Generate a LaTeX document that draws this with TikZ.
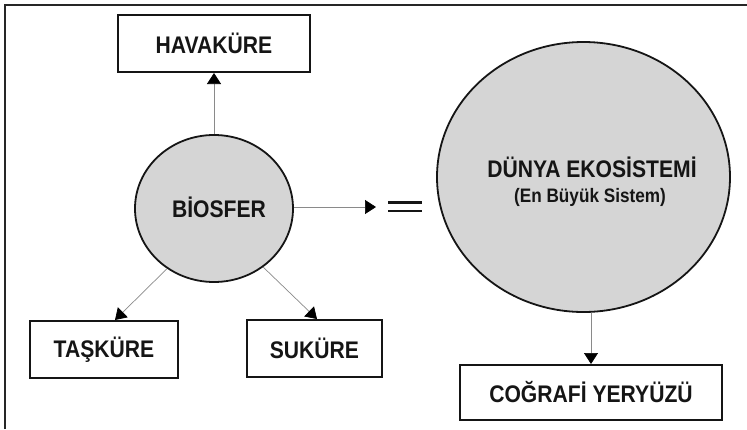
\documentclass[tikz,border=0pt]{standalone}
\usepackage{fontspec}
\setmainfont{Liberation Sans}
\newfontfamily\condfont[FakeStretch=0.88]{Liberation Sans}
\usetikzlibrary{arrows.meta,shapes.geometric}
\definecolor{fillgray}{HTML}{D5D5D5}
\definecolor{edgedark}{HTML}{151515}
\definecolor{linegray}{HTML}{8A8A8A}
\tikzset{
  bigfont/.style={font=\condfont\bfseries\fontsize{24}{27}\selectfont},
  boxnode/.style={draw=edgedark, line width=2pt, fill=white, inner sep=0pt,
    bigfont, text=edgedark},
  ellnode/.style={ellipse, draw=edgedark, line width=1.8pt, fill=fillgray, inner sep=0pt},
  conn/.style={draw=linegray, line width=0.7pt, -{Triangle[length=11pt,width=14pt,fill=black,color=black]}},
  labeltext/.style={inner sep=0pt, text=edgedark},
  framestyle/.style={draw=black!85, line width=1.8pt}
}
\begin{document}
\begin{tikzpicture}[x=1pt,y=-1pt]
\useasboundingbox (0,0) rectangle (747,429);
% frame (top and left edges)
\draw[framestyle] (5,429) -- (5,5) -- (747,5);
% nodes
\node[boxnode, minimum width=192pt, minimum height=57pt] (hava) at (214,43.5) {HAVAKÜRE};
\node[ellnode, minimum width=158pt, minimum height=147pt] (bio) at (214,208.5) {};
\node[labeltext, bigfont] (biotext) at (219,207) {BİOSFER};
\node[boxnode, minimum width=148pt, minimum height=57pt] (tas) at (104,349.5) {TAŞKÜRE};
\node[boxnode, minimum width=135pt, minimum height=57pt] (su) at (314.5,348.5) {SUKÜRE};
\node[ellnode, minimum width=293pt, minimum height=270pt] (dunya) at (583.5,177) {};
\node[labeltext, bigfont] (dunyatext) at (592,167) {DÜNYA EKOSİSTEMİ};
\node[labeltext, font=\condfont\bfseries\fontsize{19.5}{22}\selectfont] (dunyasub) at (590,197) {(En Büyük Sistem)};
\node[boxnode, minimum width=262pt, minimum height=55pt] (cog) at (591,392.5) {COĞRAFİ YERYÜZÜ};
% free end of the right arrow
\coordinate (rightend) at (376,207);
% connectors
\draw[conn] (bio.north) -- (hava.south);
\draw[conn] (bio.232) -- ([xshift=11pt]tas.north);
\draw[conn] (bio.310) -- ([xshift=2.5pt]su.north);
\draw[conn] (bio.east |- rightend) -- (rightend);
\draw[conn] (dunya.south -| cog.north) -- (cog.north);
% equals sign
\draw[edgedark, line width=2.6pt] (388,202.5) -- (422,202.5);
\draw[edgedark, line width=2.6pt] (388,211) -- (422,211);
\end{tikzpicture}
\end{document}
